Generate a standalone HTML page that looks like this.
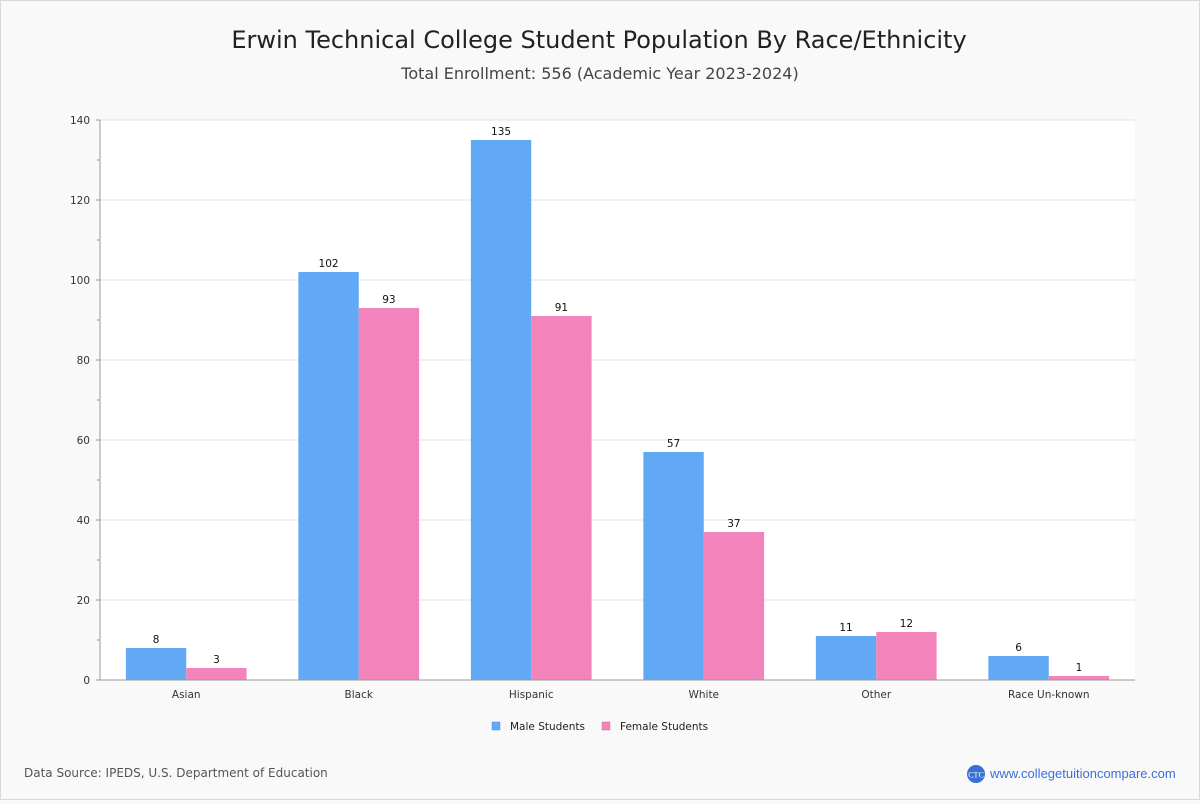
<!DOCTYPE html>
<html><head><meta charset="utf-8">
<style>
html,body{margin:0;padding:0;background:#f9f9f9;}
body{width:1200px;height:800px;overflow:hidden;font-family:"DejaVu Sans","Liberation Sans",sans-serif;}
</style></head>
<body>
<svg id="chart" width="1200" height="800" xmlns="http://www.w3.org/2000/svg">
<rect x="0.5" y="0.5" width="1199" height="799" fill="#f9f9f9" stroke="#d8d8d8"/>
<text x="599" y="48" text-anchor="middle" font-size="24" fill="#222">Erwin Technical College Student Population By Race/Ethnicity</text>
<text x="600" y="79" text-anchor="middle" font-size="16" fill="#444">Total Enrollment: 556 (Academic Year 2023-2024)</text>
<rect x="100" y="120" width="1035" height="560" fill="#fff"/>
<g id="grid"></g>
<g id="bars"></g>
<g id="axes"></g>
<g>
<rect x="492" y="722" width="8" height="8" fill="#61a9f5" stroke="#4a8fd8" stroke-width="0.5"/>
<text x="510" y="730" font-size="10.5" fill="#222">Male Students</text>
<rect x="602" y="722" width="8" height="8" fill="#f283bb" stroke="#d86aa0" stroke-width="0.5"/>
<text x="620" y="730" font-size="10.5" fill="#222">Female Students</text>
</g>
<text x="24" y="777" font-size="12" fill="#555">Data Source: IPEDS, U.S. Department of Education</text>
<g>
<circle cx="976" cy="774" r="9" fill="#3a6fd6"/>
<text x="976" y="777.5" text-anchor="middle" font-size="8" fill="#fff" font-family="Liberation Serif,serif">CTC</text>
<text x="990" y="778" font-size="13" fill="#3a6fd6" font-family="Liberation Sans,sans-serif">www.collegetuitioncompare.com</text>
</g>
</svg>
<script>
const categories=["Asian","Black","Hispanic","White","Other","Race Un-known"];
const maleValues=[8,102,135,57,11,6];
const femaleValues=[3,93,91,37,12,1];
const yTicks=[0,20,40,60,80,100,120,140];
const NS="http://www.w3.org/2000/svg";
const X0=100,X1=1135,Y0=680,Y1=120,YMAX=140;
const band=(X1-X0)/categories.length;
function xc(i){return X0+band*(i+0.5);}
function ys(v){return Y0-(v/YMAX)*(Y0-Y1);}
function mk(tag,attrs,parent){const e=document.createElementNS(NS,tag);for(const k in attrs)e.setAttribute(k,attrs[k]);parent.appendChild(e);return e;}
const grid=document.getElementById('grid'),bars=document.getElementById('bars'),axes=document.getElementById('axes');
yTicks.forEach(t=>{
  if(t>0){const g=mk('line',{x1:X0,x2:X1,y1:ys(t),y2:ys(t),stroke:'#e3e3e3'},grid);
  
  }
  const tx=mk('text',{x:90,y:ys(t)+4,'text-anchor':'end','font-size':10.5,fill:'#333'},axes);
  tx.textContent=t;
  
  
  mk('line',{x1:96,x2:100,y1:ys(t),y2:ys(t),stroke:'#999'},axes);
  if(t<YMAX) mk('line',{x1:97,x2:100,y1:ys(t+10),y2:ys(t+10),stroke:'#999'},axes);
});
mk('line',{x1:X0,x2:X0,y1:Y1,y2:Y0,stroke:'#999'},axes);
mk('line',{x1:X0,x2:X1,y1:Y0,y2:Y0,stroke:'#999'},axes);
const bw=band*0.35;
categories.forEach((c,i)=>{
  const cx=xc(i);
  [[maleValues[i],cx-bw,'#61a9f5','male'],[femaleValues[i],cx,'#f283bb','female']].forEach(([v,x,col,s])=>{
    const r=mk('rect',{x:x,y:ys(v),width:bw,height:Y0-ys(v),fill:col},bars);
    
    
    const l=mk('text',{x:x+bw/2,y:ys(v)-5,'text-anchor':'middle','font-size':10.5,fill:'#111'},bars);
    l.textContent=v;
    
    
  });
  const xl=mk('text',{x:cx,y:698,'text-anchor':'middle','font-size':10.5,fill:'#333'},axes);
  xl.textContent=c;
  
  
});
</script>
</body></html>
